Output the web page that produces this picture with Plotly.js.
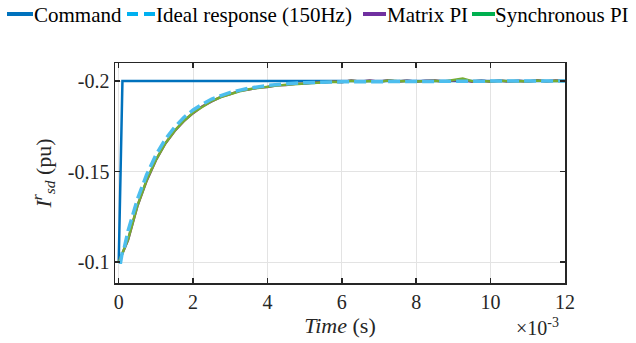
<!DOCTYPE html>
<html>
<head>
<meta charset="utf-8">
<script src="https://cdn.plot.ly/plotly-3.0.1.min.js"></script>
<style>
html,body{margin:0;padding:0;background:#fff;}
#chart{width:636px;height:343px;}
#chart svg text{font-family:'Liberation Serif','Times New Roman',serif !important;}
</style>
</head>
<body>
<div id="chart"></div>
<script>
// ---- data (time in units of 1e-3 s) ----
const seriesNames = ['Command', 'Ideal response (150Hz)', 'Matrix PI', 'Synchronous PI'];

const commandTime = [0, 0.1, 12];
const commandValue = [-0.1, -0.2, -0.2];

const idealTime = [0, 0.05, 0.1, 0.15, 0.25, 0.5, 0.75, 1.0, 1.25, 1.5, 1.75, 2.0, 2.25, 2.5, 2.75, 3.0, 3.5, 4.0, 4.5, 5, 6, 7, 8, 9, 10, 11, 12];
const idealValue = [-0.1, -0.1, -0.106, -0.108, -0.1172, -0.1346, -0.1483, -0.1592, -0.1678, -0.1745, -0.1799, -0.1841, -0.1873, -0.1901, -0.192, -0.1938, -0.1961, -0.1976, -0.1985, -0.1991, -0.1996, -0.1998, -0.1999, -0.2, -0.2, -0.2, -0.2];

const piTime = [0, 0.25, 0.5, 0.75, 1.0, 1.25, 1.5, 1.75, 2.0, 2.25, 2.5, 2.75, 3.0, 3.25, 3.5, 3.75, 4.0, 4.25, 4.5, 4.75, 5.0, 5.25, 5.5, 5.75, 6.0, 6.25, 6.5, 6.75, 7.0, 7.25, 7.5, 7.75, 8.0, 8.25, 8.5, 8.75, 9.0, 9.25, 9.5, 9.75, 10.0, 10.25, 10.5, 10.75, 11.0, 11.25, 11.5, 11.75, 12.0];
const matrixPI = [-0.1, -0.1122, -0.1308, -0.1449, -0.1563, -0.1654, -0.1723, -0.1779, -0.1823, -0.1861, -0.1888, -0.1913, -0.1928, -0.1946, -0.1953, -0.1965, -0.1968, -0.1977, -0.1979, -0.1986, -0.1986, -0.1994, -0.1991, -0.1998, -0.1994, -0.2003, -0.1996, -0.2003, -0.1996, -0.2004, -0.1997, -0.2003, -0.1996, -0.2002, -0.2003, -0.1997, -0.2003, -0.2007, -0.1997, -0.2003, -0.1997, -0.2003, -0.1997, -0.2002, -0.1997, -0.2004, -0.1998, -0.2003, -0.2];
const synchronousPI = [-0.1, -0.1125, -0.131, -0.1452, -0.1565, -0.1655, -0.1725, -0.178, -0.1825, -0.186, -0.189, -0.1912, -0.193, -0.1944, -0.1955, -0.1963, -0.197, -0.1975, -0.198, -0.1984, -0.1988, -0.1991, -0.1993, -0.1996, -0.1995, -0.2002, -0.1998, -0.2001, -0.1997, -0.2003, -0.1999, -0.2001, -0.1998, -0.2, -0.2002, -0.1998, -0.2004, -0.2014, -0.1999, -0.2001, -0.1998, -0.2002, -0.1999, -0.2001, -0.1998, -0.2003, -0.1999, -0.2002, -0.2];

const xTickVals = [0, 2, 4, 6, 8, 10, 12];
const xTickText = ['0', '2', '4', '6', '8', '10', '12'];
const yTickVals = [-0.2, -0.15, -0.1];
const yTickText = ['-0.2', '-0.15', '-0.1'];

// ---- styles ----
const FONT = 'Liberation Serif';
const lineColors = ['#0072bd', '#4dbeee', '#7e2f8e', '#77ac30'];
const legendColors = ['#0072bd', '#00b0f0', '#7030a0', '#00b050'];

// layout geometry helpers (pixels -> paper)
const M = {l: 115, r: 71, t: 63, b: 60};
const PW = 636 - M.l - M.r, PH = 343 - M.t - M.b;
const px = x => (x - M.l) / PW;
const py = y => (343 - M.b - y) / PH;

const traces = [
  {x: commandTime, y: commandValue, name: seriesNames[0], mode: 'lines', line: {color: lineColors[0], width: 2.5}},
  {x: piTime, y: matrixPI, name: seriesNames[2], mode: 'lines', line: {color: lineColors[2], width: 2.5}},
  {x: piTime, y: synchronousPI, name: seriesNames[3], mode: 'lines', line: {color: lineColors[3], width: 2.5}},
  {x: idealTime, y: idealValue, name: seriesNames[1], mode: 'lines', line: {color: lineColors[1], width: 3.5, dash: '12px,5px'}}
].map(t => Object.assign(t, {showlegend: false, hoverinfo: 'skip'}));

// manual legend (symbol start/end, text start, in px)
const legendItems = [
  {x0: 7, x1: 33, tx: 33, dash: 'solid'},
  {x0: 127, x1: 155, tx: 155, dash: '11px,6px'},
  {x0: 363, x1: 386, tx: 386, dash: 'solid'},
  {x0: 472, x1: 495, tx: 494, dash: 'solid'}
];
const legY = 14;
const shapes = legendItems.map((it, i) => ({
  type: 'line', xref: 'paper', yref: 'paper',
  x0: px(it.x0), x1: px(it.x1), y0: py(legY), y1: py(legY),
  line: {color: legendColors[i], width: 4, dash: it.dash}
}));
const annotations = legendItems.map((it, i) => ({
  xref: 'paper', yref: 'paper', x: px(it.tx), y: py(legY + 1),
  xanchor: 'left', yanchor: 'middle', showarrow: false,
  text: seriesNames[i], font: {family: FONT, size: 21, color: '#000'}, borderpad: 0
}));
annotations.push({
  xref: 'paper', yref: 'paper', x: px(537), y: py(327),
  xanchor: 'center', yanchor: 'middle', showarrow: false,
  text: '\u00d710<sup>-3</sup>', font: {family: FONT, size: 20, color: '#262626'}
});

const axisCommon = {
  showline: true, linecolor: '#262626', linewidth: 1.5, mirror: 'ticks',
  ticks: 'inside', ticklen: 5, tickwidth: 1.5, tickcolor: '#262626',
  showgrid: true, gridcolor: '#e3e3e3', gridwidth: 1, zeroline: false,
  tickfont: {family: FONT, size: 20, color: '#262626'}, automargin: false
};

const layout = {
  width: 636, height: 343,
  margin: M,
  font: {family: FONT},
  paper_bgcolor: '#fff', plot_bgcolor: '#fff',
  showlegend: false,
  xaxis: Object.assign({}, axisCommon, {
    range: [-0.1, 12], tickmode: 'array', tickvals: xTickVals, ticktext: xTickText,
    title: {text: '<i>Time</i> (s)', font: {family: FONT, size: 22, color: '#262626'}, standoff: 6}
  }),
  yaxis: Object.assign({}, axisCommon, {
    range: [-0.0885, -0.21], tickmode: 'array', tickvals: yTickVals, ticktext: yTickText,
    title: {text: '<i>I</i><sup><i>r</i></sup><sub><i>sd</i></sub> (pu)', font: {family: FONT, size: 22, color: '#262626'}, standoff: 10}
  }),
  shapes: shapes,
  annotations: annotations
};

Plotly.newPlot('chart', traces, layout, {staticPlot: true, displayModeBar: false});
</script>
</body>
</html>
